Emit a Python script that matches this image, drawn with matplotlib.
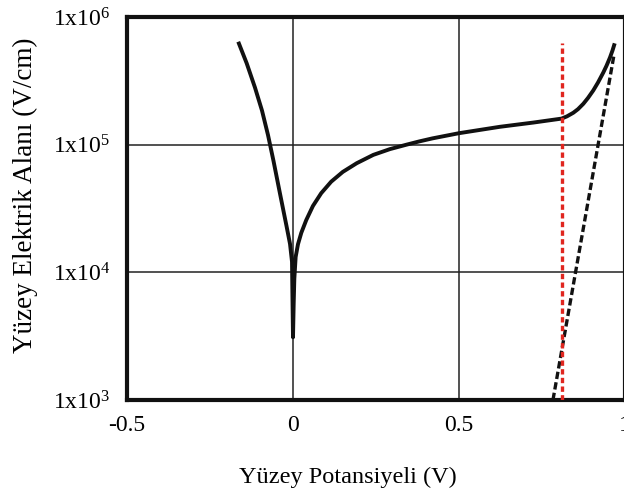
import matplotlib
matplotlib.use("Agg")
import matplotlib.pyplot as plt

plt.rcParams['font.family'] = ['Liberation Serif', 'DejaVu Serif']
plt.rcParams['mathtext.fontset'] = 'custom'
plt.rcParams['mathtext.rm'] = 'Liberation Serif'
plt.rcParams['mathtext.it'] = 'Liberation Serif:italic'

# Solid curve (surface field vs surface potential)
curve_x = [-0.165, -0.1395, -0.1145, -0.0934, -0.0753, -0.0587, -0.0392, -0.0196, -0.009, -0.003, -0.0015, 0.0,
           0.002, 0.004, 0.008, 0.015, 0.025, 0.040, 0.060, 0.085, 0.115, 0.150, 0.192, 0.242, 0.292,
           0.342, 0.380, 0.420, 0.500, 0.623, 0.724, 0.809, 0.8253, 0.8443, 0.8584, 0.8744, 0.8886, 0.9045,
           0.9187, 0.9346, 0.9443, 0.9548, 0.9623, 0.969]
curve_y = [6.40e5, 4.34e5, 2.80e5, 1.85e5, 1.19e5, 7.45e4, 4.14e4, 2.31e4, 1.67e4, 1.21e4, 6.0e3, 3.1e3,
           5.6e3, 8.9e3, 1.32e4, 1.66e4, 2.04e4, 2.57e4, 3.31e4, 4.17e4, 5.13e4, 6.12e4, 7.16e4, 8.32e4, 9.23e4,
           1.00e5, 1.06e5, 1.12e5, 1.23e5, 1.38e5, 1.49e5, 1.60e5, 1.667e5, 1.778e5, 1.897e5, 2.089e5, 2.323e5,
           2.661e5, 3.069e5, 3.673e5, 4.150e5, 4.819e5, 5.458e5, 6.22e5]

# Black dashed asymptote
dash_x = [0.783, 0.966]
dash_y = [1.0e3, 4.9e5]

# Red dashed vertical marker
red_x = [0.810, 0.810]
red_y = [1.0e3, 6.25e5]

xticks = [-0.5, 0, 0.5, 1]
xtick_labels = ['-0.5', '0', '0.5', '1']
yticks = [1e3, 1e4, 1e5, 1e6]
ytick_labels = [r'1x10$^{3}$', r'1x10$^{4}$', r'1x10$^{5}$', r'1x10$^{6}$']

fig = plt.figure(figsize=(6.24, 4.91), dpi=100)
ax = fig.add_axes([127/624, 1 - 400/491, (625 - 127)/624, (400 - 17)/491])

ax.plot(curve_x, curve_y, color='#111111', lw=2.8, solid_joinstyle='round', solid_capstyle='butt', zorder=3)
ax.plot(dash_x, dash_y, color='#111111', lw=2.4, dashes=(2.2, 1.0), zorder=3)
ax.plot(red_x, red_y, color='#e0261f', lw=2.4, dashes=(1.6, 1.0), zorder=4)

ax.set_yscale('log')
ax.set_xlim(-0.5, 1.0)
ax.set_ylim(1e3, 1e6)
ax.set_xticks(xticks)
ax.set_xticklabels(xtick_labels)
ax.set_yticks(yticks)
ax.set_yticklabels(ytick_labels)
ax.minorticks_off()
ax.tick_params(length=0, labelsize=17, pad=11)
ax.tick_params(axis='y', pad=12)

ax.grid(True, color='#222222', lw=1.1)
ax.set_axisbelow(True)
for s in ax.spines.values():
    s.set_linewidth(3.0)
    s.set_color('#111111')

ax.set_xlabel('Yüzey Potansiyeli (V)', fontsize=17.5)
ax.set_ylabel('Yüzey Elektrik Alanı (V/cm)', fontsize=19.5)
ax.xaxis.set_label_coords((348 - 127)/498, (400 - 477)/383)
ax.yaxis.set_label_coords((25 - 127)/498, (400 - 195)/383)
ax.xaxis.label.set_va('center')
ax.yaxis.label.set_va('center')

fig.savefig('out.png', dpi=100)
